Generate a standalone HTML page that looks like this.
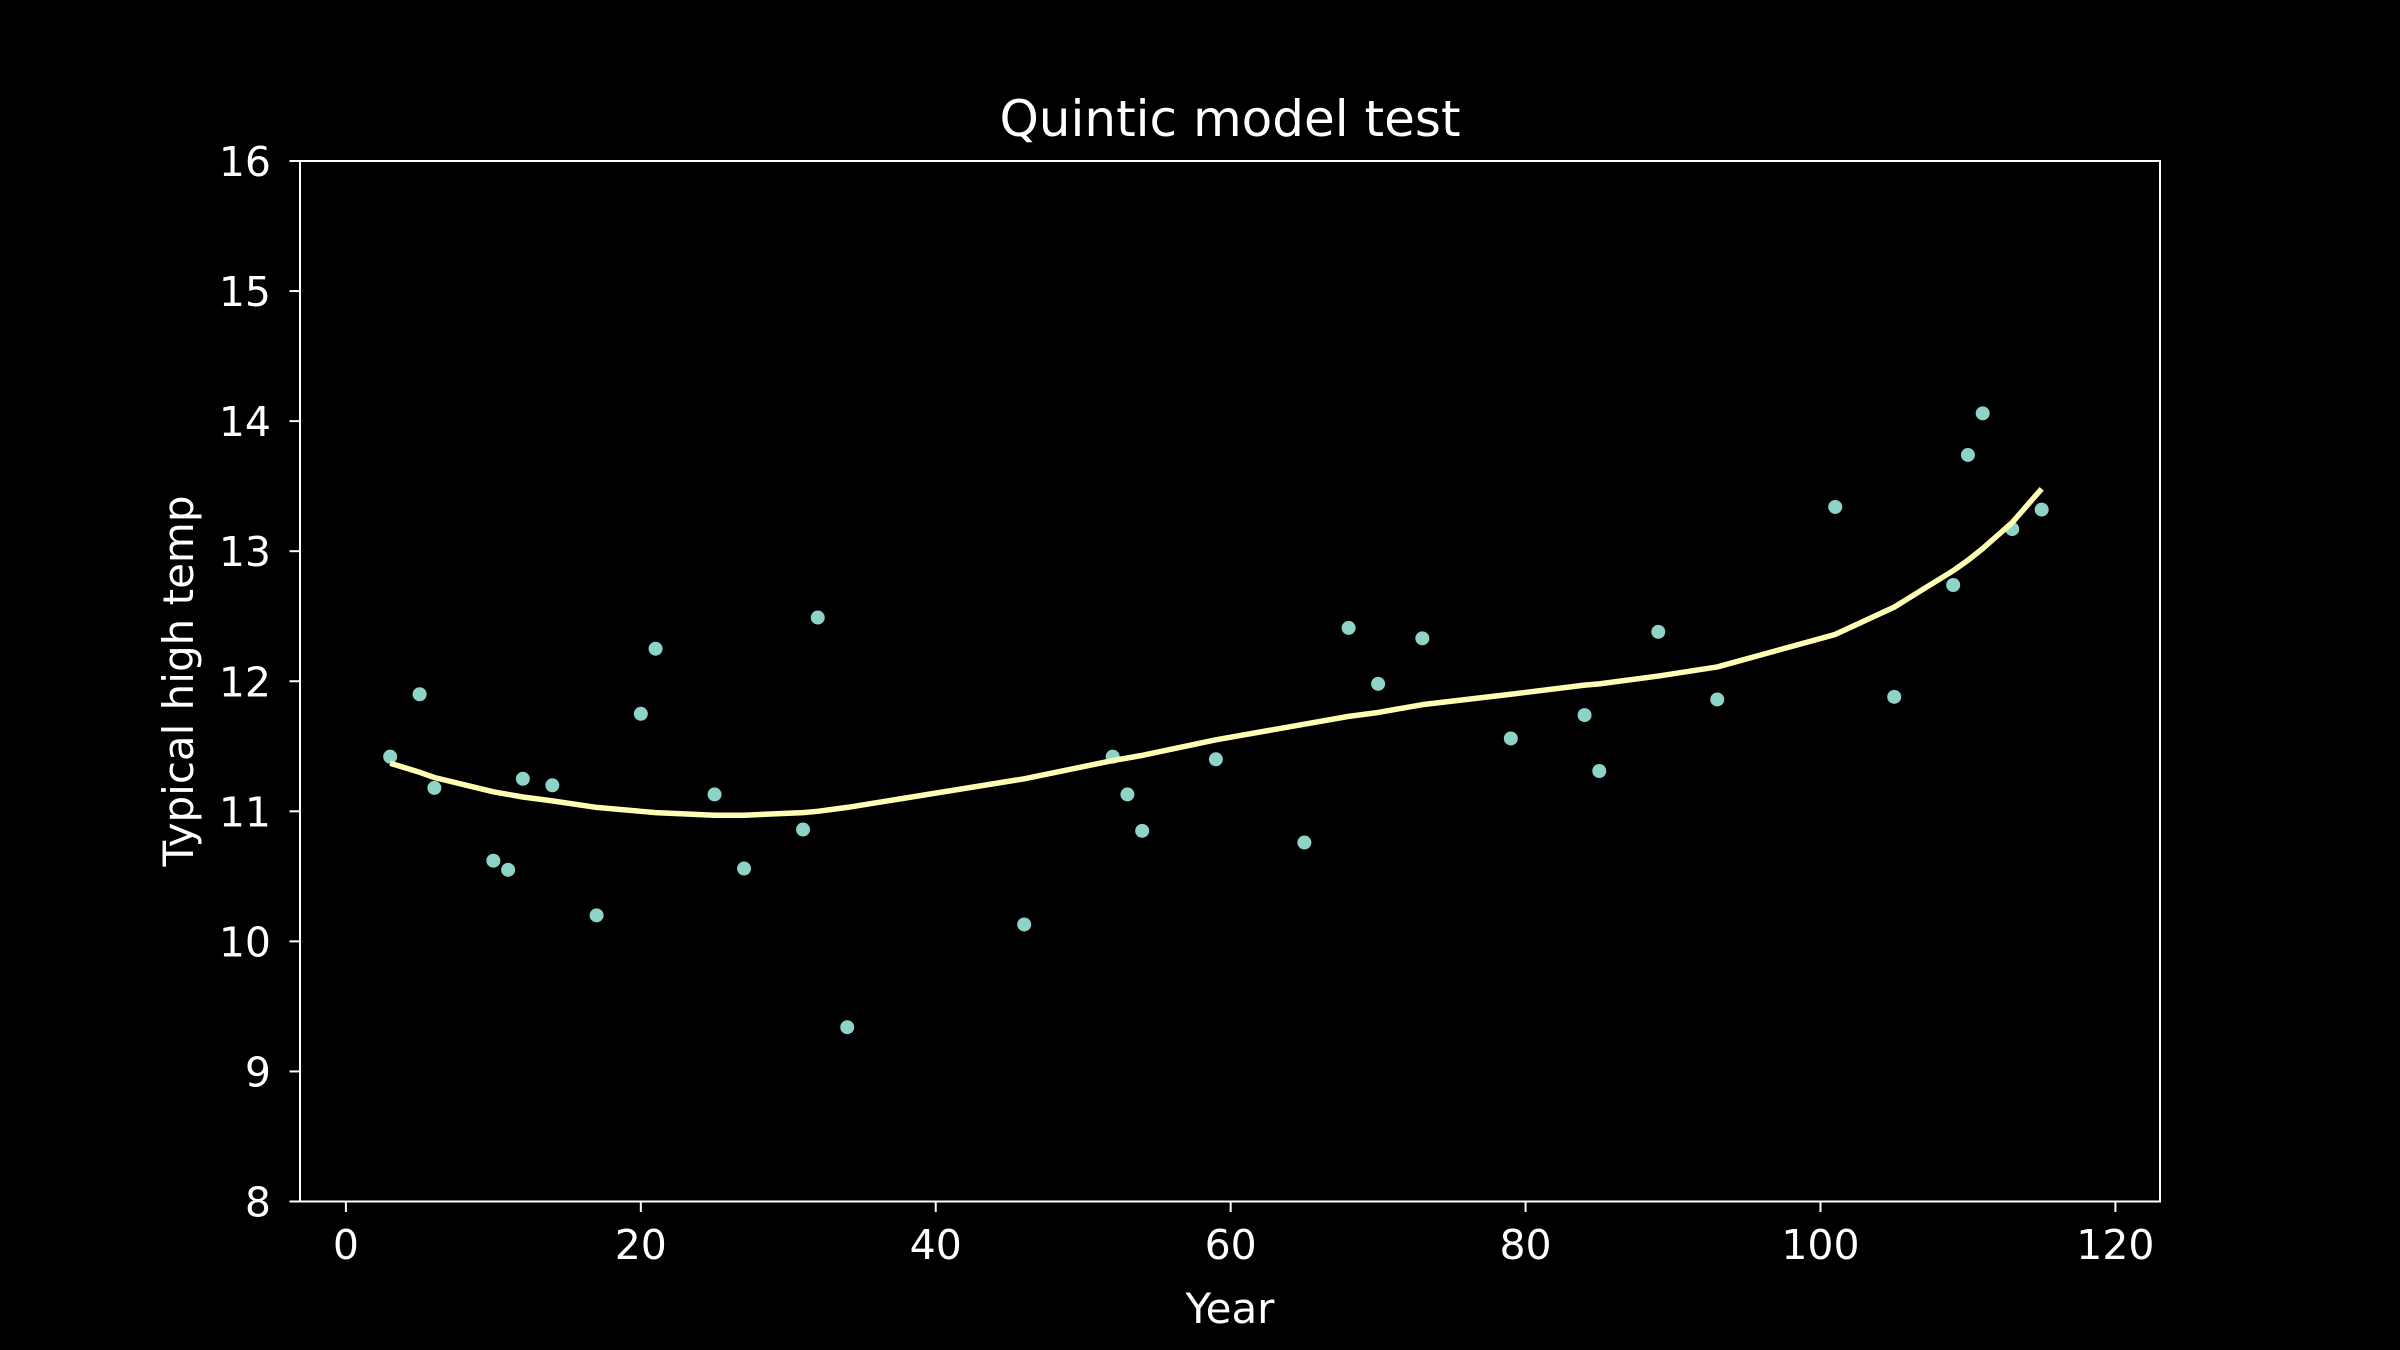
<!DOCTYPE html>
<html><head><meta charset="utf-8"><style>
html,body{margin:0;padding:0;background:#000;}
svg{display:block;font-family:"DejaVu Sans","Liberation Sans",sans-serif;}
</style></head><body>
<svg id="chart" width="2400" height="1350" viewBox="0 0 2400 1350">
<rect x="0" y="0" width="2400" height="1350" fill="#000"/>
<text x="1230" y="136" fill="#fff" font-size="50" text-anchor="middle">Quintic model test</text>
<text x="1230" y="1323" fill="#fff" font-size="42" text-anchor="middle">Year</text>
<text transform="translate(193,681) rotate(-90)" fill="#fff" font-size="42" text-anchor="middle">Typical high temp</text>
<g id="ticks"></g>
<g id="marks"></g>
<rect x="300" y="161" width="1860" height="1040.5" fill="none" stroke="#fff" stroke-width="2"/>
</svg>
<script>
const xTicks = [0,20,40,60,80,100,120];
const yTicks = [8,9,10,11,12,13,14,15,16];
const yearValues = [3,5,6,10,11,12,14,17,20,21,25,27,31,32,34,46,52,53,54,59,65,68,70,73,79,84,85,89,93,101,105,109,110,111,113,115];
const tempValues = [11.42,11.9,11.18,10.62,10.55,11.25,11.2,10.2,11.75,12.25,11.13,10.56,10.86,12.49,9.34,10.13,11.42,11.13,10.85,11.4,10.76,12.41,11.98,12.33,11.56,11.74,11.31,12.38,11.86,13.34,11.88,12.74,13.74,14.06,13.17,13.32];
const modelYears = [3,5,6,10,11,12,14,17,20,21,25,27,31,32,34,46,52,53,54,59,65,68,70,73,79,84,85,89,93,101,105,109,110,111,113,115];
const modelValues = [11.37,11.3,11.26,11.15,11.13,11.11,11.08,11.03,11.0,10.99,10.97,10.97,10.99,11.0,11.03,11.25,11.39,11.41,11.43,11.55,11.67,11.73,11.76,11.82,11.9,11.97,11.98,12.04,12.11,12.36,12.57,12.85,12.93,13.02,13.22,13.48];

const X0=345.9, XS=(2115.4-345.9)/120;
const xPix = v => X0 + v*XS;
const yPix = v => 1201.5 - (v-8)*(1201.5-161)/8;
const NS="http://www.w3.org/2000/svg";
const ticks=document.getElementById('ticks'), marks=document.getElementById('marks');
function mk(tag,attrs,parent){const e=document.createElementNS(NS,tag);for(const k in attrs)e.setAttribute(k,attrs[k]);parent.appendChild(e);return e;}
xTicks.forEach(t=>{
  const l=mk('line',{x1:xPix(t),x2:xPix(t),y1:1201.5,y2:1212,stroke:'#fff','stroke-width':2},ticks);
  
  
  const tx=mk('text',{x:xPix(t),y:1259,fill:'#fff','font-size':41,'text-anchor':'middle'},ticks);
  tx.textContent=t;
  
  
});
yTicks.forEach(t=>{
  const l=mk('line',{x1:289.5,x2:300,y1:yPix(t),y2:yPix(t),stroke:'#fff','stroke-width':2},ticks);
  
  
  const tx=mk('text',{x:271,y:yPix(t)+15,fill:'#fff','font-size':41,'text-anchor':'end'},ticks);
  tx.textContent=t;
  
  
});
yearValues.forEach((x,i)=>{
  const c=mk('circle',{cx:xPix(x),cy:yPix(tempValues[i]),r:7,fill:'#8dd3c7'},marks);
  
  
});
const p=mk('polyline',{points:modelYears.map((x,i)=>xPix(x)+','+yPix(modelValues[i])).join(' '),fill:'none',stroke:'#ffffb3','stroke-width':5.5,'stroke-linejoin':'round'},marks);


</script>
</body></html>
